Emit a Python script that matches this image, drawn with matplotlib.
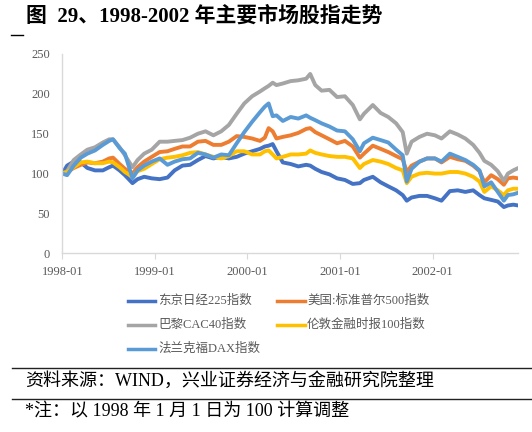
import matplotlib
matplotlib.use("Agg")
import matplotlib.pyplot as plt
from matplotlib.lines import Line2D
import pandas as pd

dates = ["1998-01-01", "1998-01-20", "1998-02-15", "1998-03-15", "1998-04-10", "1998-05-10",
         "1998-06-10", "1998-07-05", "1998-07-20", "1998-08-15", "1998-09-05", "1998-10-05",
         "1998-10-25", "1998-11-20", "1998-12-20", "1999-01-20", "1999-02-20", "1999-03-20",
         "1999-04-20", "1999-05-20", "1999-06-20", "1999-07-20", "1999-08-20", "1999-09-20",
         "1999-10-20", "1999-11-20", "1999-12-20", "2000-01-20", "2000-02-20", "2000-03-10",
         "2000-03-25", "2000-04-10", "2000-04-25", "2000-05-20", "2000-06-20", "2000-07-20",
         "2000-08-20", "2000-09-05", "2000-09-25", "2000-10-20", "2000-11-20", "2000-12-20",
         "2001-01-20", "2001-02-20", "2001-03-20", "2001-04-05", "2001-05-10", "2001-06-10",
         "2001-07-10", "2001-08-10", "2001-09-05", "2001-09-21", "2001-10-10", "2001-11-10",
         "2001-12-10", "2002-01-10", "2002-02-05", "2002-03-10", "2002-04-10", "2002-05-10",
         "2002-06-10", "2002-07-05", "2002-07-24", "2002-08-20", "2002-09-15", "2002-10-09",
         "2002-10-25", "2002-11-15", "2002-12-05"]

nikkei = [100, 110, 115, 114, 107, 104, 104, 108, 110, 104, 98, 88, 93, 96, 94, 93, 95, 104,
          110, 111, 117, 122, 119, 121, 119, 121, 125, 128, 131, 134, 135, 137, 128, 114, 112,
          109, 111, 110, 106, 102, 99, 94, 92, 87, 88, 92, 96, 89, 84, 79, 73, 66, 70, 72, 72,
          69, 66, 78, 79, 77, 79, 73, 69, 67, 65, 58, 60, 61, 60]
sp500 = [100, 102, 107, 111, 114, 113, 115, 119, 120, 112, 106, 100, 108, 115, 121, 127, 128,
         131, 134, 134, 140, 141, 136, 136, 140, 147, 146, 144, 141, 145, 157, 153, 144, 146,
         148, 151, 156, 157, 152, 148, 143, 138, 141, 134, 120, 125, 135, 131, 127, 122, 118,
         102, 110, 115, 119, 119, 114, 121, 118, 116, 110, 103, 89, 98, 93, 86, 94, 95, 94]
cac40 = [100, 103, 117, 124, 130, 133, 139, 143, 143, 133, 123, 108, 117, 125, 130, 140, 140,
         141, 142, 145, 150, 153, 148, 153, 161, 175, 188, 197, 203, 207, 210, 214, 211, 213,
         216, 217, 219, 225, 211, 204, 205, 196, 197, 186, 168, 175, 186, 176, 171, 163, 152,
         125, 140, 146, 150, 148, 144, 153, 149, 144, 136, 126, 116, 111, 103, 91, 100, 104, 107]
ftse100 = [100, 102, 108, 114, 115, 113, 113, 115, 114, 108, 102, 96, 103, 106, 112, 118, 120,
           121, 123, 126, 127, 124, 121, 119, 122, 128, 128, 124, 124, 128, 129, 124, 119, 121,
           124, 124, 125, 129, 126, 124, 122, 121, 121, 119, 107, 112, 117, 115, 112, 107, 104,
           88, 96, 100, 101, 100, 100, 102, 102, 100, 96, 90, 77, 84, 79, 73, 79, 81, 81]
dax = [100, 98, 110, 120, 125, 129, 136, 141, 143, 132, 125, 94, 104, 110, 115, 119, 111, 115,
       118, 119, 126, 124, 120, 124, 123, 138, 152, 165, 177, 184, 188, 172, 173, 166, 171, 169,
       173, 170, 167, 163, 159, 154, 153, 143, 128, 138, 145, 142, 139, 130, 123, 90, 106, 115,
       119, 119, 115, 125, 121, 117, 111, 104, 84, 89, 77, 66, 73, 74, 76]

labels = ["东京日经225指数", "美国:标准普尔500指数", "巴黎CAC40指数", "伦敦金融时报100指数", "法兰克福DAX指数"]
colors = ["#4472C4", "#ED7D31", "#A5A5A5", "#FFC000", "#5B9BD5"]
series = [nikkei, sp500, cac40, ftse100, dax]
yticks = [0, 50, 100, 150, 200, 250]
xtick_labels = ["1998-01", "1999-01", "2000-01", "2001-01", "2002-01"]

FAM = ["Liberation Serif", "Noto Sans CJK SC"]
W, H = 532, 432
fig = plt.figure(figsize=(W / 100, H / 100), dpi=100)
fig.patch.set_facecolor("white")

def fx(px):
    return px / W

def fy(py):
    return 1 - py / H

x0, x1, ytop, ybot = 62.3, 518.3, 54.0, 253.3
ax = fig.add_axes([fx(x0), fy(ybot), (x1 - x0) / W, (ybot - ytop) / H])
d = pd.to_datetime(dates)
for vals, c in zip(series, colors):
    ax.plot(d, vals, color=c, lw=2.8, solid_joinstyle="round", solid_capstyle="round")

ax.set_ylim(0, 250)
ax.set_yticks(yticks)
ax.set_xlim(pd.Timestamp("1998-01-01"), d[-1])
ax.set_xticks(pd.to_datetime([s + "-01" for s in xtick_labels]))
ax.set_xticklabels(xtick_labels)
for sp in ["top", "right"]:
    ax.spines[sp].set_visible(False)
for sp in ["left", "bottom"]:
    ax.spines[sp].set_color("#D9D9D9")
    ax.spines[sp].set_linewidth(1.0)
ax.tick_params(axis="y", length=0, pad=9, labelsize=9, labelcolor="#595959")
ax.tick_params(axis="x", length=4, color="#D9D9D9", pad=5, labelsize=9, labelcolor="#595959")
for lab in ax.get_xticklabels() + ax.get_yticklabels():
    lab.set_fontfamily(FAM)

# title
fig.text(fx(26), fy(17), "图  29、1998-2002 年主要市场股指走势", family=FAM,
         fontsize=15, fontweight="bold", va="center", ha="left", color="black")
fig.add_artist(Line2D([fx(11), fx(23)], [fy(35), fy(35)], color="black", lw=1))

# legend (manual)
rows = [300.7, 325, 349]
cols = [(128, 155, 158), (277, 305, 307)]
pos = [(0, 0), (0, 1), (1, 0), (1, 1), (2, 0)]
for (r, c), lab, col in zip(pos, labels, colors):
    ls, le, tx = cols[c]
    yy = rows[r]
    fig.add_artist(Line2D([fx(ls), fx(le)], [fy(yy), fy(yy)], color=col, lw=2.5))
    fig.text(fx(tx), fy(yy), lab, family=FAM, fontsize=9, color="#595959", va="center", ha="left")

# footer
fig.add_artist(Line2D([fx(12), fx(532)], [fy(367.5), fy(367.5)], color="#222222", lw=1))
fig.add_artist(Line2D([fx(12), fx(532)], [fy(398.5), fy(398.5)], color="#222222", lw=1))
fig.text(fx(25), fy(381), "资料来源：WIND，兴业证券经济与金融研究院整理", family=FAM,
         fontsize=13, color="black", va="center", ha="left")
fig.text(fx(25), fy(412), "*注：以 1998 年 1 月 1 日为 100 计算调整", family=FAM,
         fontsize=13, color="black", va="center", ha="left")

fig.savefig("out.png", dpi=100)
